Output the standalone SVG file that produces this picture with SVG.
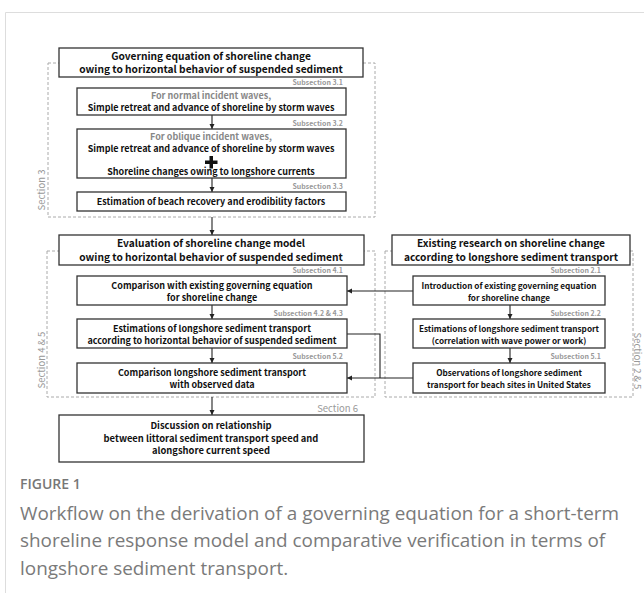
<svg xmlns="http://www.w3.org/2000/svg" width="644" height="593" viewBox="0 0 644 593">
<defs>
<style>
.box{fill:#fff;stroke:#333;stroke-width:1.3}
.dash{fill:none;stroke:#aaa;stroke-width:1;stroke-dasharray:3 2}
.t{font-family:"Noto Sans CJK KR","Noto Sans",sans-serif;font-weight:bold;font-size:9px;fill:#111;text-anchor:middle}
.tr{font-family:"Noto Sans CJK KR","Noto Sans",sans-serif;font-weight:bold;font-size:8.2px;fill:#111;text-anchor:middle}
.tb{font-family:"Noto Sans CJK KR","Noto Sans",sans-serif;font-weight:bold;font-size:10.2px;fill:#111;text-anchor:middle}
.t6{font-family:"Noto Sans CJK KR","Noto Sans",sans-serif;font-weight:bold;font-size:9.4px;fill:#111;text-anchor:middle}
.g{fill:#888}
.sub{font-family:"Noto Sans CJK KR","Noto Sans",sans-serif;font-weight:bold;font-size:7px;fill:#999;text-anchor:end}
.sec{font-family:"Noto Sans CJK KR","Noto Sans",sans-serif;font-size:9.5px;fill:#999;text-anchor:middle}
.c{fill:none;stroke:#222;stroke-width:1.1}
.cap{font-family:"Open Sans","Noto Sans",sans-serif;font-size:18.9px;fill:#7a7a7a}
</style>
<marker id="ah" markerWidth="6" markerHeight="6" refX="5" refY="3" orient="auto" markerUnits="userSpaceOnUse">
<path d="M0,0.5 L5,3 L0,5.5 Z" fill="#222"/>
</marker>
</defs>
<rect width="644" height="593" fill="#fff"/>
<path d="M5.5,593 V12.5 H644" fill="none" stroke="#ddd" stroke-width="1"/>

<g id="sections">
<rect class="dash" x="48" y="63" width="327" height="154"/>
<rect class="dash" x="47" y="251" width="328" height="146"/>
<rect class="dash" x="385" y="251" width="248" height="146"/>
<text class="sec" transform="translate(45,190) rotate(-90)">Section 3</text>
<text class="sec" transform="translate(45,360) rotate(-90)">Section 4 &amp; 5</text>
<text class="sec" transform="translate(633.5,361) rotate(90)">Section 2 &amp; 5</text>
</g>

<g id="connectors">
<line class="c" x1="212" y1="115" x2="212" y2="129" marker-end="url(#ah)"/>
<line class="c" x1="212" y1="178" x2="212" y2="192" marker-end="url(#ah)"/>
<line class="c" x1="212" y1="217" x2="212" y2="235" marker-end="url(#ah)"/>
<line class="c" x1="212" y1="305" x2="212" y2="319" marker-end="url(#ah)"/>
<line class="c" x1="212" y1="348" x2="212" y2="363" marker-end="url(#ah)"/>
<line class="c" x1="212" y1="397" x2="212" y2="415" marker-end="url(#ah)"/>
<line class="c" x1="510" y1="305" x2="510" y2="319" marker-end="url(#ah)"/>
<line class="c" x1="510" y1="348" x2="510" y2="363" marker-end="url(#ah)"/>
<line class="c" x1="413" y1="291" x2="347" y2="291" marker-end="url(#ah)"/>
<line class="c" x1="413" y1="378" x2="347" y2="378" marker-end="url(#ah)"/>
<polyline class="c" points="347,334 380,334 380,378"/>
</g>

<g id="n-governing">
<rect class="box" x="59" y="48" width="304" height="29"/>
<text class="tb" x="211" y="59.5">Governing equation of shoreline change</text>
<text class="tb" x="211" y="73.3">owing to horizontal behavior of suspended sediment</text>
</g>

<g id="n-3-1">
<text class="sub" x="343" y="85">Subsection 3.1</text>
<rect class="box" x="77" y="88" width="269" height="27"/>
<text class="t g" x="211" y="99">For normal incident waves,</text>
<text class="t" x="211" y="111">Simple retreat and advance of shoreline by storm waves</text>
</g>

<g id="n-3-2">
<text class="sub" x="343" y="126">Subsection 3.2</text>
<rect class="box" x="77" y="129" width="269" height="49"/>
<text class="t g" x="211" y="140">For oblique incident waves,</text>
<text class="t" x="211" y="152">Simple retreat and advance of shoreline by storm waves</text>
<path d="M209.5,156 h3.5 v4.5 h4.5 v3.5 h-4.5 v4.5 h-3.5 v-4.5 h-4.5 v-3.5 h4.5 Z" fill="#111"/>
<text class="t" x="211" y="175">Shoreline changes owing to longshore currents</text>
</g>

<g id="n-3-3">
<text class="sub" x="343" y="189">Subsection 3.3</text>
<rect class="box" x="77" y="192" width="269" height="19"/>
<text class="t" x="211" y="205">Estimation of beach recovery and erodibility factors</text>
</g>

<g id="n-evaluation">
<rect class="box" x="59" y="235" width="305" height="30"/>
<text class="tb" x="211" y="247">Evaluation of shoreline change model</text>
<text class="tb" x="211" y="260.8">owing to horizontal behavior of suspended sediment</text>
</g>

<g id="n-4-1">
<text class="sub" x="343" y="273">Subsection 4.1</text>
<rect class="box" x="77" y="276" width="270" height="29"/>
<text class="t" x="212" y="288.5">Comparison with existing governing equation</text>
<text class="t" x="212" y="300.5">for shoreline change</text>
</g>

<g id="n-4-2">
<text class="sub" x="343" y="316">Subsection 4.2 &amp; 4.3</text>
<rect class="box" x="77" y="319" width="270" height="29"/>
<text class="t" x="212" y="331.5">Estimations of longshore sediment transport</text>
<text class="t" x="212" y="343.5">according to horizontal behavior of suspended sediment</text>
</g>

<g id="n-5-2">
<text class="sub" x="343" y="359">Subsection 5.2</text>
<rect class="box" x="77" y="363" width="270" height="30"/>
<text class="t" x="212" y="375.5">Comparison longshore sediment transport</text>
<text class="t" x="212" y="388">with observed data</text>
</g>

<g id="n-section6">
<text class="sec" x="358" y="412" style="text-anchor:end">Section 6</text>
<rect class="box" x="59" y="415" width="305" height="47"/>
<text class="t6" x="211" y="429.3">Discussion on relationship</text>
<text class="t6" x="211" y="441.8">between littoral sediment transport speed and</text>
<text class="t6" x="211" y="454.3">alongshore current speed</text>
</g>

<g id="n-existing">
<rect class="box" x="392" y="235" width="238" height="30"/>
<text class="tb" x="511" y="247">Existing research on shoreline change</text>
<text class="tb" x="511" y="260.8">according to longshore sediment transport</text>
</g>

<g id="n-2-1">
<text class="sub" x="601" y="273">Subsection 2.1</text>
<rect class="box" x="413" y="276" width="192" height="29"/>
<text class="tr" x="509" y="288.5">Introduction of existing governing equation</text>
<text class="tr" x="509" y="300.5">for shoreline change</text>
</g>

<g id="n-2-2">
<text class="sub" x="601" y="316">Subsection 2.2</text>
<rect class="box" x="413" y="319" width="192" height="29"/>
<text class="tr" x="509" y="331.5">Estimations of longshore sediment transport</text>
<text class="tr" x="509" y="343.5">(correlation with wave power or work)</text>
</g>

<g id="n-5-1">
<text class="sub" x="601" y="359">Subsection 5.1</text>
<rect class="box" x="413" y="363" width="192" height="30"/>
<text class="tr" x="509" y="375.5">Observations of longshore sediment</text>
<text class="tr" x="509" y="388">transport for beach sites in United States</text>
</g>

<g id="caption">
<text x="20" y="489" style="font-family:'Open Sans','Noto Sans',sans-serif;font-size:14px;font-weight:600;fill:#777">FIGURE 1</text>
<text class="cap" x="20" y="520">Workflow on the derivation of a governing equation for a short-term</text>
<text class="cap" x="20" y="547">shoreline response model and comparative verification in terms of</text>
<text class="cap" x="20" y="575">longshore sediment transport.</text>
</g>
</svg>
